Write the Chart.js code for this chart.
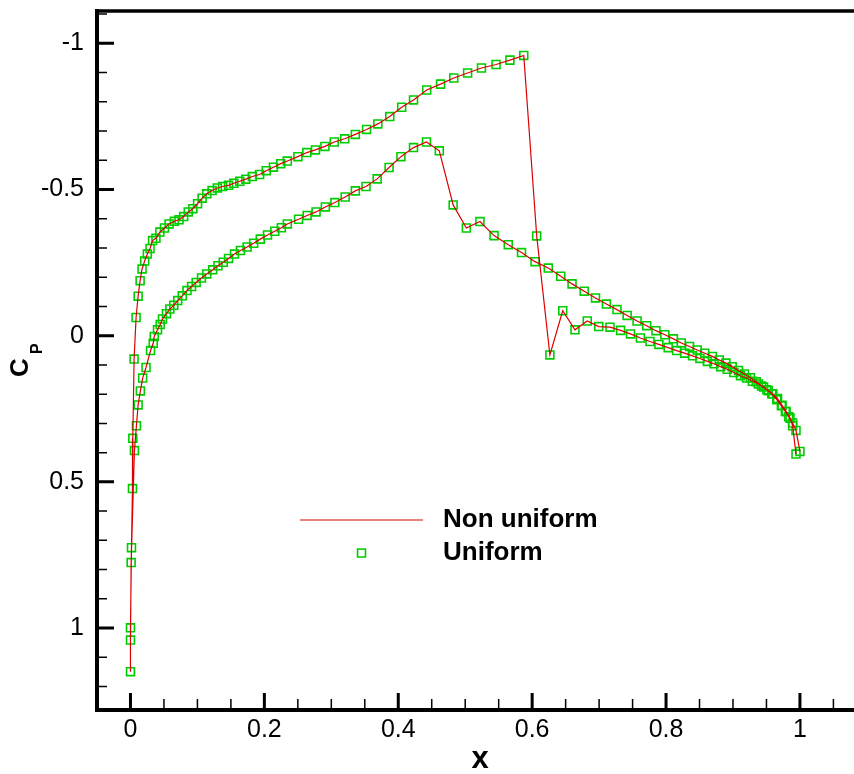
<!DOCTYPE html>
<html>
<head>
<meta charset="utf-8">
<script src="https://cdn.jsdelivr.net/npm/chart.js@4.4.1/dist/chart.umd.min.js"></script>
<style>
  html, body { margin: 0; padding: 0; background: #fff; }
</style>
</head>
<body>
<canvas id="cp" width="854" height="774"></canvas>
<script>
// upper surface, leading edge -> trailing edge
const upperX = [0.000, 0.0015, 0.003, 0.0035, 0.0054, 0.0084, 0.0114, 0.0144, 0.0173, 0.0212, 0.0252, 0.0292, 0.0330, 0.0380, 0.0439, 0.0508, 0.0577, 0.0656, 0.0725, 0.0795, 0.0863, 0.0932, 0.1002, 0.1070, 0.1140, 0.1219, 0.1298, 0.1377, 0.1465, 0.1544, 0.1633, 0.1722, 0.1820, 0.1929, 0.2028, 0.2136, 0.2245, 0.2343, 0.2501, 0.2634, 0.2763, 0.2905, 0.3044, 0.3201, 0.3359, 0.3527, 0.3695, 0.3873, 0.4051, 0.4228, 0.4425, 0.4632, 0.4829, 0.5036, 0.5243, 0.5461, 0.5668, 0.5875, 0.6068, 0.6265, 0.6457, 0.6640, 0.6823, 0.6995, 0.7163, 0.7321, 0.7469, 0.7617, 0.7760, 0.7893, 0.8032, 0.8159, 0.8278, 0.8396, 0.8506, 0.8618, 0.8717, 0.8816, 0.8914, 0.9013, 0.9112, 0.9201, 0.9290, 0.9378, 0.9457, 0.9527, 0.9595, 0.9665, 0.9733, 0.9793, 0.9852, 0.9891, 0.9941];
const upperCp = [0.999, 0.725, 0.523, 0.351, 0.080, -0.062, -0.135, -0.188, -0.228, -0.255, -0.279, -0.298, -0.325, -0.333, -0.354, -0.368, -0.382, -0.391, -0.396, -0.407, -0.423, -0.434, -0.451, -0.470, -0.485, -0.496, -0.505, -0.510, -0.514, -0.521, -0.528, -0.535, -0.544, -0.551, -0.564, -0.576, -0.588, -0.597, -0.612, -0.626, -0.635, -0.647, -0.662, -0.673, -0.688, -0.705, -0.724, -0.749, -0.781, -0.806, -0.840, -0.860, -0.881, -0.898, -0.915, -0.927, -0.942, -0.958, -0.341, 0.066, -0.085, -0.020, -0.050, -0.031, -0.029, -0.018, -0.006, 0.008, 0.020, 0.030, 0.041, 0.051, 0.060, 0.069, 0.078, 0.088, 0.096, 0.106, 0.115, 0.126, 0.137, 0.145, 0.156, 0.165, 0.176, 0.188, 0.199, 0.215, 0.238, 0.259, 0.282, 0.308, 0.405];

// lower surface, stagnation point -> trailing edge
const lowerX = [0.000, 0.000, 0.001, 0.0059, 0.0089, 0.0114, 0.0148, 0.0182, 0.0232, 0.0300, 0.0340, 0.0355, 0.0404, 0.0444, 0.0478, 0.0537, 0.0588, 0.0647, 0.0706, 0.0774, 0.0844, 0.0913, 0.0981, 0.1061, 0.1140, 0.1228, 0.1307, 0.1386, 0.1465, 0.1554, 0.1643, 0.1742, 0.1840, 0.1939, 0.2047, 0.2156, 0.2254, 0.2343, 0.2511, 0.2639, 0.2772, 0.2911, 0.3053, 0.3207, 0.3359, 0.3518, 0.3685, 0.3863, 0.4040, 0.4228, 0.4421, 0.4613, 0.4820, 0.5017, 0.5220, 0.5431, 0.5643, 0.5841, 0.6043, 0.6241, 0.6427, 0.6596, 0.6778, 0.6946, 0.7109, 0.7267, 0.7419, 0.7567, 0.7711, 0.7849, 0.7982, 0.8110, 0.8228, 0.8351, 0.8465, 0.8579, 0.8692, 0.8795, 0.8894, 0.8988, 0.9082, 0.9171, 0.9260, 0.9348, 0.9427, 0.9506, 0.9580, 0.9654, 0.9723, 0.9783, 0.9832, 0.9891, 0.9941, 1.000];
const lowerCp = [1.149, 1.041, 0.776, 0.393, 0.308, 0.237, 0.189, 0.145, 0.109, 0.051, 0.026, 0.003, -0.020, -0.038, -0.057, -0.075, -0.091, -0.104, -0.120, -0.136, -0.154, -0.168, -0.182, -0.197, -0.211, -0.225, -0.239, -0.251, -0.264, -0.279, -0.291, -0.303, -0.316, -0.330, -0.344, -0.357, -0.369, -0.382, -0.398, -0.411, -0.423, -0.440, -0.455, -0.474, -0.495, -0.510, -0.536, -0.575, -0.612, -0.643, -0.662, -0.632, -0.447, -0.368, -0.390, -0.342, -0.311, -0.284, -0.253, -0.231, -0.203, -0.177, -0.152, -0.129, -0.108, -0.089, -0.069, -0.050, -0.034, -0.017, -0.003, 0.011, 0.025, 0.037, 0.049, 0.060, 0.071, 0.083, 0.094, 0.106, 0.119, 0.131, 0.144, 0.158, 0.172, 0.185, 0.199, 0.219, 0.240, 0.259, 0.277, 0.299, 0.324, 0.396];

const xTicks = [0, 0.2, 0.4, 0.6, 0.8, 1];
const yTicks = [-1, -0.5, 0, 0.5, 1];
const xMinorStep = 0.05;
const yMinorStep = 0.1;

const seriesNames = ["Non uniform", "Uniform"];

const RED = "rgb(220,0,0)";
const GREEN = "rgb(0,205,0)";
const FONT = "'Liberation Sans', Arial, Helvetica, sans-serif";

// trailing edge -> upper surface -> stagnation -> lower surface -> trailing edge
const path = [];
for (let i = upperX.length - 1; i >= 0; i--) path.push({ x: upperX[i], y: upperCp[i] });
for (let i = 0; i < lowerX.length; i++) path.push({ x: lowerX[i], y: lowerCp[i] });

// ticks pointing inward + frame, the way the plotting program draws them
const frame = {
  id: "frame",
  afterDraw(chart) {
    const { ctx, chartArea: a } = chart;
    const xs = chart.scales.x, ys = chart.scales.y;
    ctx.save();
    ctx.strokeStyle = "#000";
    ctx.lineCap = "butt";

    // minor ticks
    ctx.lineWidth = 1.5;
    ctx.beginPath();
    for (let v = -1.1; v <= 1.25; v += yMinorStep) {
      const r = Math.round(v * 10) / 10;
      if (yTicks.some(t => Math.abs(t - r) < 1e-6)) continue;
      const py = ys.getPixelForValue(r);
      ctx.moveTo(a.left, py); ctx.lineTo(a.left + 10, py);
    }
    for (let v = 0.05; v <= 1.06; v += xMinorStep) {
      const r = Math.round(v * 100) / 100;
      if (xTicks.some(t => Math.abs(t - r) < 1e-6)) continue;
      const px = xs.getPixelForValue(r);
      ctx.moveTo(px, a.bottom); ctx.lineTo(px, a.bottom - 11);
    }
    ctx.stroke();

    // major ticks
    ctx.lineWidth = 3;
    ctx.beginPath();
    yTicks.forEach(t => {
      const py = ys.getPixelForValue(t);
      ctx.moveTo(a.left, py); ctx.lineTo(a.left + 17, py);
    });
    xTicks.forEach(t => {
      const px = xs.getPixelForValue(t);
      ctx.moveTo(px, a.bottom); ctx.lineTo(px, a.bottom - 17);
    });
    ctx.stroke();

    // axes and top border
    ctx.lineWidth = 4;
    ctx.beginPath();
    ctx.moveTo(a.left, a.top - 2); ctx.lineTo(a.left, a.bottom + 2);
    ctx.moveTo(a.left - 2, a.bottom); ctx.lineTo(chart.width, a.bottom);
    ctx.stroke();
    ctx.lineWidth = 3.5;
    ctx.beginPath();
    ctx.moveTo(a.left - 2, a.top); ctx.lineTo(chart.width, a.top);
    ctx.stroke();

    // x axis title
    ctx.fillStyle = "#000";
    ctx.font = "bold 31px " + FONT;
    ctx.textAlign = "center";
    ctx.textBaseline = "alphabetic";
    ctx.fillText("x", 480, 768);

    // C_P axis label, rotated
    ctx.translate(28, 377);
    ctx.rotate(-Math.PI / 2);
    ctx.textAlign = "left";
    ctx.font = "bold 26px " + FONT;
    ctx.fillText("C", 0, 0);
    ctx.font = "bold 16px " + FONT;
    ctx.fillText("P", 23, 14);
    ctx.restore();

    // legend
    ctx.save();
    ctx.strokeStyle = RED;
    ctx.lineWidth = 1.2;
    ctx.beginPath();
    ctx.moveTo(300, 520); ctx.lineTo(423, 520);
    ctx.stroke();
    ctx.strokeStyle = GREEN;
    ctx.fillStyle = "rgba(0,0,0,0)";
    ctx.lineWidth = 1.6;
    Chart.helpers.drawPoint(ctx, { pointStyle: "rect", radius: 5.6, borderWidth: 1.6 }, 361.5, 553);
    ctx.fillStyle = "#000";
    ctx.font = "bold 26px " + FONT;
    ctx.textBaseline = "middle";
    ctx.textAlign = "left";
    ctx.fillText(seriesNames[0], 443, 520);
    ctx.fillText(seriesNames[1], 443, 553);
    ctx.restore();
  }
};

new Chart(document.getElementById("cp"), {
  type: "scatter",
  data: {
    datasets: [
      {
        label: seriesNames[0],
        data: path,
        showLine: true,
        borderColor: RED,
        borderWidth: 1.2,
        pointRadius: 0,
        tension: 0
      },
      {
        label: seriesNames[1],
        data: path,
        showLine: false,
        pointStyle: "rect",
        pointRadius: 5.6,
        pointBorderWidth: 1.6,
        pointBorderColor: GREEN,
        pointBackgroundColor: "rgba(0,0,0,0)"
      }
    ]
  },
  options: {
    responsive: false,
    devicePixelRatio: 1,
    animation: false,
    layout: { padding: { top: 11, right: 0, left: 0, bottom: 0 } },
    plugins: { legend: { display: false }, tooltip: { enabled: false } },
    scales: {
      x: {
        type: "linear",
        min: -0.05,
        max: 1.07,
        grid: { display: false, drawTicks: false },
        border: { display: false },
        afterBuildTicks: s => { s.ticks = xTicks.map(v => ({ value: v })); },
        afterFit: s => { s.height = 64; s.paddingLeft = 0; s.paddingRight = 0; },
        ticks: {
          color: "#000",
          font: { family: FONT, size: 25 },
          padding: 5,
          maxRotation: 0,
          autoSkip: false,
          callback: v => String(v)
        }
      },
      y: {
        type: "linear",
        reverse: true,
        min: -1.11,
        max: 1.28,
        grid: { display: false, drawTicks: false },
        border: { display: false },
        afterBuildTicks: s => { s.ticks = yTicks.map(v => ({ value: v })); },
        afterFit: s => { s.width = 97; s.paddingTop = 0; s.paddingBottom = 0; },
        ticks: {
          color: "#000",
          font: { family: FONT, size: 25 },
          padding: 13,
          callback: v => String(v)
        }
      }
    }
  },
  plugins: [frame]
});
</script>
</body>
</html>
